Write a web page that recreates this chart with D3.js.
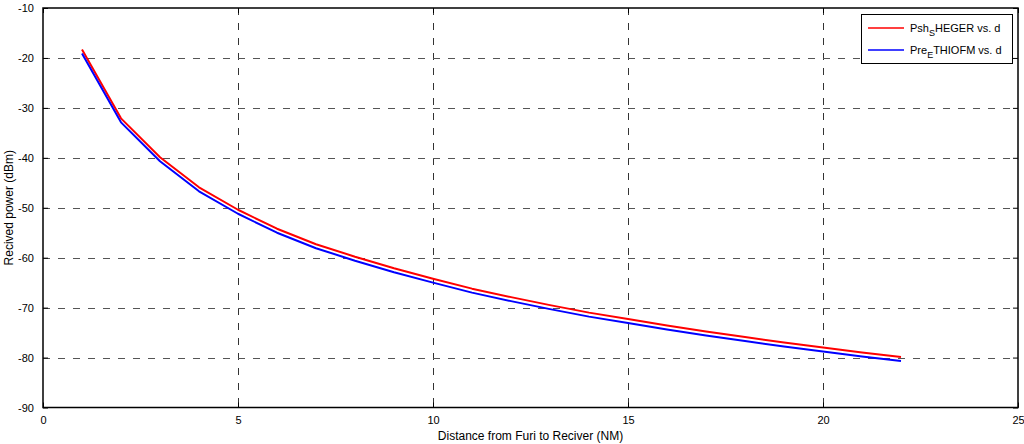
<!DOCTYPE html>
<html>
<head>
<meta charset="utf-8">
<script src="https://cdn.jsdelivr.net/npm/d3@7"></script>
<style>
  html, body { margin: 0; padding: 0; background: #fff; }
  svg { display: block; font-family: "Liberation Sans", Arial, sans-serif; }
</style>
</head>
<body>
<svg id="chart" width="1024" height="444"></svg>
<script>
const distances = [1,2,3,4,5,6,7,8,9,10,11,12,13,14,15,16,17,18,19,20,21,22];
const pshSheger = [-18.3,-32.1,-39.9,-45.9,-50.4,-54.2,-57.3,-59.8,-62.1,-64.2,-66.2,-67.9,-69.5,-71.0,-72.3,-73.6,-74.8,-75.9,-77.0,-78.0,-79.0,-79.9];
const preEthiofm = [-19.1,-32.9,-40.7,-46.7,-51.2,-55.0,-58.1,-60.6,-62.9,-65.0,-67.0,-68.7,-70.3,-71.8,-73.1,-74.4,-75.6,-76.7,-77.8,-78.8,-79.8,-80.7];
const xTicks = [0,5,10,15,20,25];
const yTicks = [-90,-80,-70,-60,-50,-40,-30,-20,-10];
const seriesNames = [["Psh","S","HEGER vs. d"],["Pre","E","THIOFM vs. d"]];
const seriesColors = ["#ff0000","#0000ff"];
const xLabel = "Distance from Furi to Reciver (NM)";
const yLabel = "Recived power (dBm)";

const svg = d3.select("#chart");
const L = 43, R = 1018, T = 8, B = 407.5;
const x = d3.scaleLinear().domain([0,25]).range([L,R]);
const y = d3.scaleLinear().domain([-90,-10]).range([B,T]);

// grid
const grid = svg.append("g").attr("stroke","#333").attr("stroke-width",1).attr("stroke-dasharray","7,8");
grid.selectAll(".gx").data(xTicks.slice(1,-1)).enter().append("line")
  .attr("x1",d=>Math.round(x(d))+0.5).attr("x2",d=>Math.round(x(d))+0.5)
  .attr("y1",T).attr("y2",B);
grid.selectAll(".gy").data(yTicks.slice(1,-1)).enter().append("line")
  .attr("y1",d=>Math.round(y(d))+0.5).attr("y2",d=>Math.round(y(d))+0.5)
  .attr("x1",L).attr("x2",R).attr("stroke","#555");

// axes (MATLAB style, ticks inward on all sides)
const fmt = d => String(d);
const ax = svg.append("g");
const bottomAxis = d3.axisBottom(x).tickValues(xTicks).tickSize(-5).tickPadding(9).tickFormat(fmt);
const leftAxis = d3.axisLeft(y).tickValues(yTicks).tickSize(-5).tickPadding(9).tickFormat(fmt);
const topAxis = d3.axisTop(x).tickValues(xTicks).tickSize(-5).tickFormat("");
const rightAxis = d3.axisRight(y).tickValues(yTicks).tickSize(-5).tickFormat("");
[ [bottomAxis, `translate(0,${B})`], [leftAxis, `translate(${L},0)`],
  [topAxis, `translate(0,${T})`], [rightAxis, `translate(${R},0)`] ].forEach(([a,t]) => {
  const g = ax.append("g").attr("transform",t).call(a);
  g.select(".domain").remove();
  g.selectAll("line").attr("stroke","#000");
  g.selectAll("text").attr("font-size",11).attr("fill","#000")
    .attr("font-family","'Liberation Sans', Arial, sans-serif");
});
// frame
svg.append("rect").attr("x",L).attr("y",T).attr("width",R-L).attr("height",B-T)
  .attr("fill","none").attr("stroke","#000").attr("stroke-width",1.5);

// lines
const line = d3.line().x((d,i)=>x(distances[i])).y(d=>y(d));
[pshSheger, preEthiofm].forEach((s,k) => {
  svg.append("path").datum(s).attr("d",line).attr("fill","none")
    .attr("stroke",seriesColors[k]).attr("stroke-width",2).attr("stroke-linejoin","round");
});

// labels
svg.append("text").attr("x",(L+R)/2).attr("y",440).attr("text-anchor","middle")
  .attr("font-size",12).text(xLabel);
svg.append("text").attr("transform",`translate(13,${(T+B)/2}) rotate(-90)`)
  .attr("text-anchor","middle").attr("font-size",12).text(yLabel);

// legend
const lg = svg.append("g");
lg.append("rect").attr("x",861.5).attr("y",14.5).attr("width",151).attr("height",49)
  .attr("fill","#fff").attr("stroke","#000").attr("stroke-width",1);
seriesNames.forEach((n,k) => {
  const yy = 28 + k*22;
  lg.append("line").attr("x1",868).attr("x2",904).attr("y1",yy).attr("y2",yy)
    .attr("stroke",seriesColors[k]).attr("stroke-width",1.5);
  const t = lg.append("text").attr("x",910).attr("y",yy+4).attr("font-size",11);
  t.append("tspan").text(n[0]);
  t.append("tspan").attr("font-size",9).attr("dy",4).text(n[1]);
  t.append("tspan").attr("dy",-4).text(n[2]);
});
</script>
</body>
</html>
